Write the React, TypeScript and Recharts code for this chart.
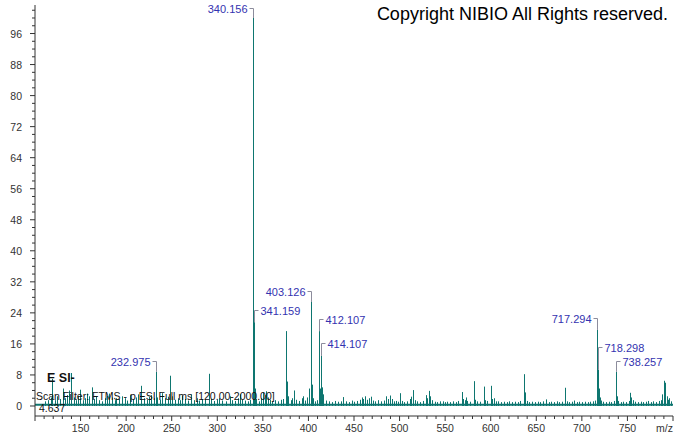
import { BarChart, Bar, XAxis, YAxis, ReferenceLine, LabelList } from "recharts";

// m/z, relative abundance (%)
const peaksLow: [number, number][] = [
  [112, 1.2], [115, 1.5], [118, 2.2], [119.7, 7.0], [122, 1.5], [125, 2.5], [128, 1.8],
  [131, 4.5], [134, 2.0], [136, 2.8], [138, 4.0], [140.6, 8.5], [143, 2.2], [146, 1.5],
  [148, 2.5], [150.5, 4.2], [153, 1.5], [156, 2.0], [158, 3.2], [160, 2.5], [162.7, 4.8],
  [165, 1.8], [168, 2.5], [171, 1.5], [174, 1.2], [177, 2.0], [180, 2.6], [182, 3.2],
  [185, 2.2], [188, 1.5], [190, 2.0], [193, 1.8], [196, 2.5], [199, 2.0], [202, 1.4],
  [205, 2.8], [208, 1.8], [211, 2.2], [214, 3.0], [217, 5.2], [220, 2.0], [223, 1.6],
  [226, 2.4], [228, 2.8], [231, 2.0], [232.975, 8.8], [235, 2.2], [238, 1.6], [240, 3.3],
  [243, 2.0], [246, 2.4], [249.2, 7.8], [251, 2.5], [254, 1.6], [257, 2.0], [260, 1.5],
  [262, 2.6], [265, 1.8], [268, 1.4], [272, 3.0], [275, 1.5], [278, 2.0], [281, 1.4],
  [284, 1.8], [287, 1.6], [291.3, 8.3], [294, 1.8], [297, 1.3], [300, 1.6], [303, 2.0],
  [306, 1.4], [310, 1.2], [314, 2.5], [317, 1.5], [320, 1.3], [323, 2.0], [325, 3.0],
  [328, 1.6], [331, 1.4], [334, 1.2], [337, 1.6],
];

const peaksMid: [number, number][] = [
  [340.156, 100], [341.159, 21.6], [342.16, 4.5], [343.2, 1.8], [346, 1.2], [349, 2.0],
  [351, 3.5], [352.5, 2.8], [354, 3.8], [356, 2.2], [358, 1.6], [361, 1.2], [364, 1.5],
  [367, 1.2], [370, 1.6], [373, 1.8], [376.5, 19.3], [377.5, 6.3], [378.5, 2.5], [381, 1.5],
  [383, 2.0], [385.3, 4.0], [387, 1.6], [390, 1.3], [393, 2.0], [395, 2.5], [397, 1.4],
  [399.5, 2.2], [401, 4.5], [403.126, 26.8], [404.13, 5.5], [405.1, 2.0], [408, 1.2],
  [410, 1.5], [412.107, 19.3], [413.11, 4.5], [414.107, 12.9], [415.1, 4.8], [416.1, 3.0],
  [417.1, 1.8], [420, 1.4], [423, 1.2], [426, 1.0], [430, 1.3], [433, 1.1], [436, 1.2],
  [439, 2.3], [442, 1.2], [445, 1.0], [448, 1.4], [451, 1.1], [454, 1.3], [457, 1.6],
  [459, 2.2], [461, 1.8], [463, 2.5], [465, 1.6], [467, 2.0], [469, 2.4], [471, 1.4],
  [474, 1.2], [477, 1.5], [480, 1.2], [483, 1.4], [486, 2.5], [488, 1.8], [490, 2.7],
  [492, 1.8], [494, 1.2], [497, 1.3], [499, 1.1], [501.6, 3.3], [503, 1.3], [506, 1.0],
  [509, 1.2], [511.5, 1.8], [513, 2.4], [515, 4.1], [517, 1.5], [520, 1.2], [523, 1.0],
  [526, 1.3], [529.7, 2.8], [531, 2.0], [532.7, 3.9], [534.5, 2.5], [536, 1.5], [539, 1.1],
  [542, 1.0], [545, 1.2], [547.7, 1.2], [550, 1.0], [553, 1.1], [556, 1.0], [559, 1.2],
  [562, 1.0], [565, 1.3], [568.9, 3.6], [570.5, 1.8], [572, 1.5], [573.6, 2.2], [575, 1.3],
  [578, 1.1],
];

const peaksHigh: [number, number][] = [
  [582, 6.4], [583.5, 1.6], [586, 1.2], [589, 1.1], [593, 5.0], [594.5, 1.5], [597, 1.3],
  [600.7, 5.2], [602, 1.8], [604, 2.0], [606, 1.2], [609, 1.2], [612, 1.0], [615, 1.1],
  [618, 1.0], [621, 1.2], [624, 1.0], [627, 1.1], [630, 1.0], [633, 1.3], [636.9, 8.2],
  [638.7, 3.5], [640, 1.3], [643, 1.0], [646, 1.1], [649, 1.0], [652, 1.1], [655, 1.0],
  [658, 1.2], [661.4, 1.7], [664, 1.0], [667, 1.1], [670, 1.0], [673, 1.2], [676, 1.0],
  [679, 1.1], [682.3, 4.7], [684, 1.2], [687, 1.0], [690, 1.1], [692.5, 1.4], [695, 1.0],
  [698, 1.1], [701, 1.0], [704, 1.1], [707, 1.0], [710, 1.1], [713, 1.2], [715.5, 1.4],
  [717.294, 19.6], [718.298, 9.3], [719.3, 4.5], [720.3, 2.2], [721.3, 1.4], [724, 1.1],
  [727, 1.0], [730, 1.1], [733, 1.0], [736, 1.3], [738.257, 8.8], [739.3, 2.5], [740.3, 1.3],
  [743, 1.0], [746, 1.1], [749, 1.0], [752, 1.3], [753.6, 3.4], [755, 2.2], [756.5, 1.5],
  [759, 1.1], [762, 1.0], [765, 1.1], [768, 1.0], [771, 1.1], [773, 1.3], [776, 1.0],
  [779, 1.2], [782, 1.0], [785, 1.3], [787, 1.5], [789, 3.0], [790.5, 6.5], [792.3, 6.0],
  [793.5, 2.5], [795, 1.6], [796.7, 2.0], [798.5, 1.2],
];

const annotated = [232.975, 340.156, 341.159, 403.126, 412.107, 414.107, 717.294, 718.298, 738.257];

// every 10 on m/z, every 2 on abundance
const xTicks = Array.from({ length: 71 }, (_, i) => 100 + i * 10);
const yTicks = Array.from({ length: 52 }, (_, i) => i * 2);

const labelLayout: Record<string, { side: "left" | "right"; lift: number }> = {
  "232.975": { side: "left", lift: 11 },
  "340.156": { side: "left", lift: 10 },
  "341.159": { side: "right", lift: 12 },
  "403.126": { side: "left", lift: 11 },
  "412.107": { side: "right", lift: 12 },
  "414.107": { side: "right", lift: 13 },
  "717.294": { side: "left", lift: 12 },
  "718.298": { side: "right", lift: 23 },
  "738.257": { side: "right", lift: 11 },
};

const spectrum = [...peaksLow, ...peaksMid, ...peaksHigh].map(([mz, intensity]) => ({
  mz,
  intensity,
  tag: annotated.includes(mz) ? mz.toFixed(3) : undefined,
}));

const TEAL = "#0e7670";
const FONT = "'Liberation Sans', Arial, sans-serif";

// snap each 1px stick to a whole pixel so it stays solid
const Stick = (props: any) => {
  const { x, y, width, height, fill } = props;
  if (!height) return null;
  return <rect x={Math.floor(x + width / 2)} y={y} width={1} height={height} fill={fill} />;
};

const XTick = (props: any) => {
  const { x, y, payload } = props;
  const v = payload.value;
  const major = v % 50 === 0;
  return (
    <g>
      <line x1={x} x2={x} y1={y} y2={y + (major ? 5 : 3)} stroke="#333" />
      {major && v > 100 && v < 800 && (
        <text x={x} y={y + 16} textAnchor="middle" fontSize={10.5} fill="#333" fontFamily={FONT}>
          {v}
        </text>
      )}
      {v === 800 && (
        <text x={x} y={y + 16} textAnchor="end" fontSize={10.5} fill="#333" fontFamily={FONT}>
          m/z
        </text>
      )}
    </g>
  );
};

const YTick = (props: any) => {
  const { x, y, payload } = props;
  const v = payload.value;
  const major = v % 8 === 0;
  return (
    <g>
      <line x1={x - (major ? 5 : 3)} x2={x} y1={y} y2={y} stroke="#333" />
      {major && (
        <text x={x - 13} y={y} dy={4} textAnchor="end" fontSize={10.5} fill="#333" fontFamily={FONT}>
          {v}
        </text>
      )}
    </g>
  );
};

const PeakLabel = (props: any) => {
  const { value } = props;
  if (!value) return null;
  const vb = props.viewBox ?? props;
  const cx = Math.floor(vb.x + vb.width / 2) + 0.5;
  const top = vb.y;
  const { side, lift } = labelLayout[value] ?? { side: "right", lift: 12 };
  const ly = Math.round(top - lift) + 0.5;
  const hx = side === "left" ? cx - 4 : cx + 4;
  return (
    <g>
      <polyline
        points={`${hx},${ly} ${cx},${ly} ${cx},${top}`}
        fill="none"
        stroke="#8c8c9c"
        strokeWidth={1}
      />
      <text
        x={side === "left" ? hx - 2 : hx + 2}
        y={ly}
        dy={4}
        textAnchor={side === "left" ? "end" : "start"}
        fontSize={11}
        fill="#3333b0"
        fontFamily={FONT}
      >
        {value}
      </text>
    </g>
  );
};

export default function App() {
  return (
    <div style={{ position: "absolute", left: 0, top: 0, width: 674, height: 434, background: "#fff" }}>
      <BarChart
        width={674}
        height={434}
        data={spectrum}
        margin={{ top: 5, right: 1, bottom: 0, left: 0 }}
      >
        <XAxis
          dataKey="mz"
          type="number"
          domain={[100, 800]}
          ticks={xTicks}
          interval={0}
          tick={<XTick />}
          tickLine={false}
          tickSize={0}
          tickMargin={0}
          height={18}
          allowDataOverflow
          axisLine={{ stroke: "#333" }}
        />
        <YAxis
          type="number"
          domain={[-2.58, 103.35]}
          ticks={yTicks}
          interval={0}
          tick={<YTick />}
          tickLine={false}
          tickSize={0}
          tickMargin={0}
          width={35}
          allowDataOverflow
          axisLine={{ stroke: "#333" }}
        />
        <ReferenceLine y={0.3} stroke={TEAL} strokeWidth={2} />
        <Bar
          dataKey="intensity"
          fill={TEAL}
          barSize={1}
          shape={<Stick />}
          isAnimationActive={false}
        >
          <LabelList dataKey="tag" content={<PeakLabel />} />
        </Bar>
      </BarChart>
      <svg
        width={674}
        height={434}
        style={{ position: "absolute", left: 0, top: 0, pointerEvents: "none" }}
        fontFamily={FONT}
      >
        <text x={668} y={20} textAnchor="end" fontSize={18} fill="#000">
          Copyright NIBIO All Rights reserved.
        </text>
        <text x={47} y={382} fontSize={12.5} fontWeight="bold" fill="#111">
          E SI-
        </text>
        <text x={36} y={400} fontSize={10.5} fill="#111">
          Scan Filter: FTMS - p ESI Full ms [120.00-2000.00]
        </text>
        <text x={39} y={412} fontSize={10.5} fill="#111">
          4.637
        </text>
      </svg>
    </div>
  );
}
